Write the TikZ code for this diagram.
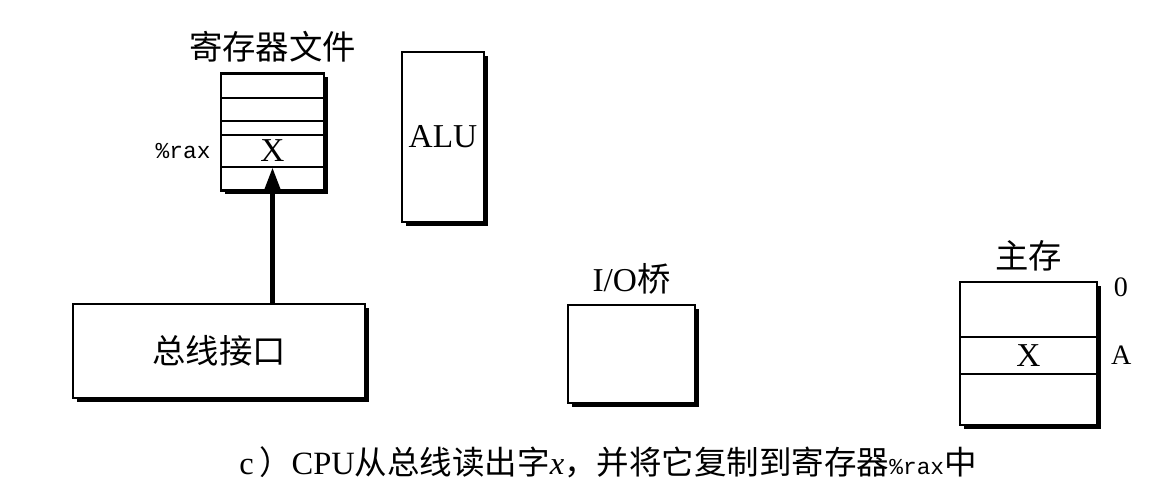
\documentclass[tikz,border=0pt]{standalone}
\usepackage{fontspec}
\setmainfont{Liberation Serif}
\setmonofont{Liberation Mono}
\newfontfamily\cjk{Noto Sans CJK SC}
\usetikzlibrary{positioning,shadows,arrows.meta}
\newcommand{\pxl}{0.02cm}

\begin{document}
\begin{tikzpicture}[x=\pxl,y=-\pxl]
\tikzstyle{box}= [rectangle,draw,fill=white,line width=0.9pt,inner sep=0pt,
  drop shadow={shadow xshift=2pt,shadow yshift=-2pt,fill=black,opacity=1}]
\tikzstyle{row}= [rectangle,draw,line width=0.9pt,inner sep=0pt,minimum width=103*\pxl]
\tikzstyle{dep}= [-{Triangle[length=13pt,width=9pt]},line width=2.4pt]
\tikzstyle{big}= [font=\fontsize{19}{22}\selectfont]
\tikzstyle{mid}= [font=\fontsize{16}{19}\selectfont]
\tikzstyle{reg}= [font=\ttfamily\fontsize{13}{15}\selectfont]

\useasboundingbox (0,0) rectangle (1150,487);

\path
	(272.5,131.5) node[box,minimum width=103*\pxl,minimum height=117*\pxl] (regs) {}
	(272.5,73)  node[row,anchor=north,minimum height=24*\pxl] (r1) {}
	(272.5,97)  node[row,anchor=north,minimum height=23*\pxl] (r2) {}
	(272.5,120) node[row,anchor=north,minimum height=14*\pxl] (r3) {}
	(272.5,134) node[row,big,anchor=north,minimum height=32*\pxl] (rax) {X}
	(272.5,166) node[row,anchor=north,minimum height=24*\pxl] (r5) {}
	(443,137)   node[box,big,minimum width=82*\pxl,minimum height=170*\pxl] (alu) {ALU}
	(219,351)   node[box,big,minimum width=292*\pxl,minimum height=94*\pxl] (bus) {\cjk 总线接口}
	(631.5,354) node[box,minimum width=127*\pxl,minimum height=98*\pxl] (bridge) {}
	(1028.5,353.5) node[box,minimum width=137*\pxl,minimum height=143*\pxl] (mem) {}
	(1028.5,355.5) node[row,big,minimum width=137*\pxl,minimum height=37*\pxl] (memx) {X}
;
\draw[dep] (rax.south |- bus.north) -- (rax.south);

\node[big,above=2pt of regs] {\cjk 寄存器文件};
\node[reg,left=2pt of rax] {\%rax};
\node[big,above=2pt of bridge] {I/O{\cjk 桥}};
\node[big,above=2pt of mem] {\cjk 主存};
\node[mid] (zero) at (1121,287) {0};
\node[mid,right=4pt of memx] (addr) {A};

\node[font=\fontsize{18.5}{21}\selectfont] (cap) at (608,462)
	{c\,{\cjk ）}CPU{\cjk 从总线读出字}\textit{x}{\cjk ，并将它复制到寄存器}{\ttfamily\fontsize{13}{15}\selectfont\%rax}{\cjk 中}};
\end{tikzpicture}
\end{document}
